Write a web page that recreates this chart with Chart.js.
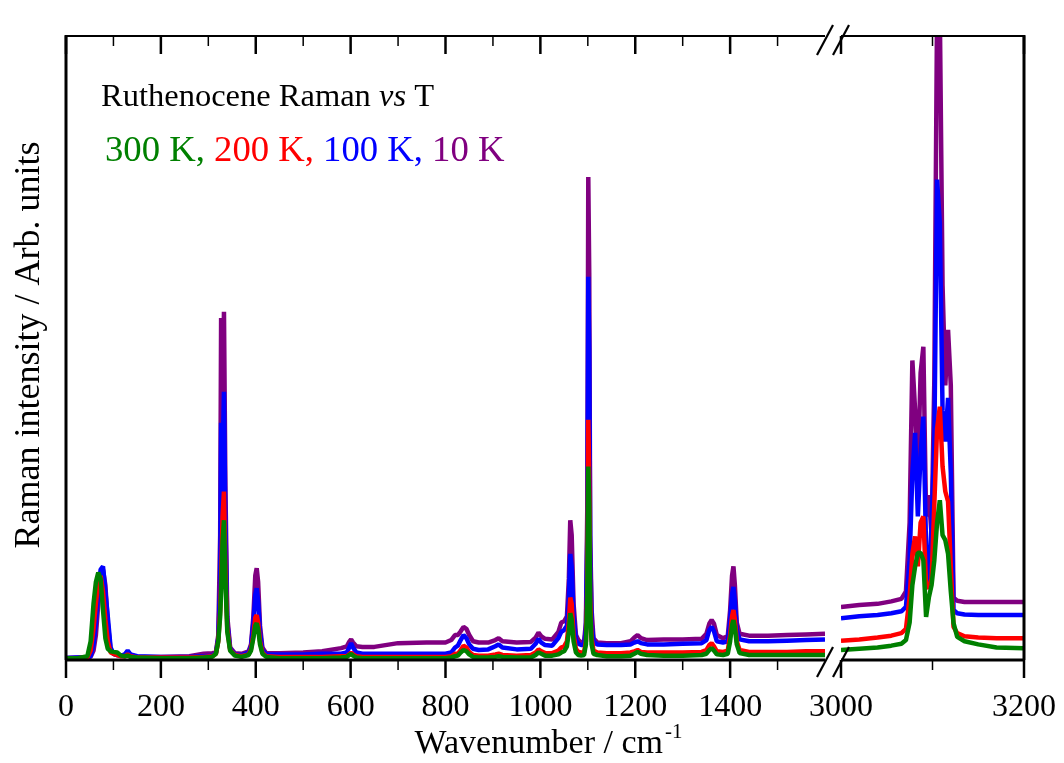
<!DOCTYPE html>
<html>
<head>
<meta charset="utf-8">
<title>Ruthenocene Raman vs T</title>
<script src="https://cdn.jsdelivr.net/npm/chart.js@4.4.1/dist/chart.umd.min.js"></script>
<style>
  html, body { margin: 0; padding: 0; background: #fff; overflow: hidden; }
  #wrap { position: relative; width: 1064px; height: 763px; overflow: hidden; }
  #wrap canvas { position: absolute; left: 0; top: 0; }
</style>
</head>
<body>
<div id="wrap">
  <canvas id="lowChart" width="1064" height="763"></canvas>
  <canvas id="highChart" width="1120" height="763"></canvas>
</div>
<script>
// Low-frequency window, 0-1600 cm-1
const lowWavenumbers = [
  0, 25, 45, 52, 58, 63, 68, 73, 78, 83, 88, 94, 100, 108, 116,
  124, 130, 136, 150,
  200, 260, 290, 308,
  316, 321, 325, 327, 330, 333, 336, 340, 346, 356,
  370, 385,
  390, 395, 399, 402, 405, 409, 414, 422,
  450, 500, 540, 580,
  592, 597, 601, 605, 612, 625,
  650, 700, 760, 800, 812,
  820, 826, 832, 838, 844, 850, 858, 870,
  890, 905, 912, 920, 950, 980,
  990, 996, 1002, 1010, 1025, 1038,
  1044, 1050, 1056, 1060, 1063, 1066, 1070, 1075, 1080, 1086,
  1092, 1096, 1099, 1101, 1103, 1105, 1108, 1112, 1120,
  1140, 1170, 1190,
  1198, 1205, 1212, 1225,
  1260, 1300, 1340,
  1350, 1356, 1361, 1366, 1372,
  1385, 1395,
  1400, 1404, 1407, 1410, 1414, 1420,
  1440, 1480, 1520, 1560, 1600
];
const low300K = [
  0.3, 0.3, 0.6, 3, 9, 12.5, 14, 13, 8, 3.5, 1.8, 1.4, 1.3, 1.2, 0.7,
  0.6, 0.7, 0.5, 0.4,
  0.3, 0.3, 0.4, 0.5,
  1.0, 3, 7, 11, 19, 22.4, 13, 4.5, 1.5, 0.7,
  0.5, 0.8,
  1.5, 3.5, 5.5, 5.9, 5, 2.5, 1, 0.5,
  0.3, 0.3, 0.3, 0.4,
  0.5, 0.8, 1.0, 0.7, 0.4, 0.3,
  0.3, 0.3, 0.3, 0.3, 0.4,
  0.6, 0.7, 1.2, 1.6, 1.4, 0.9, 0.5, 0.4,
  0.4, 0.5, 0.6, 0.5, 0.4, 0.4,
  0.8, 1.2, 1.0, 0.7, 0.7, 0.9,
  1.2, 1.4, 2.2, 4.5, 7.5, 6.5, 3, 1.2, 0.8, 0.7,
  0.8, 2.5, 10, 31, 25, 8, 2.5, 1, 0.8,
  0.6, 0.6, 0.7,
  1.0, 1.3, 1.0, 0.8,
  0.7, 0.7, 0.8,
  1.0, 1.6, 1.9, 1.5, 0.9,
  0.8, 1.0,
  3, 5.6, 6.4, 5.2, 2.5, 1.1,
  0.8, 0.8, 0.8, 0.8, 0.8
];
const low200K = [
  0.3, 0.3, 0.4, 1.5, 5, 9, 12.5, 13.5, 11, 6.5, 3, 1.2, 1, 0.8, 0.6,
  0.6, 0.9, 0.6, 0.4,
  0.4, 0.4, 0.5, 0.6,
  1.0, 3, 8, 13, 23, 27, 15, 5, 1.6, 0.8,
  0.6, 0.9,
  1.8, 4, 6.8, 7.2, 6, 3, 1.2, 0.6,
  0.5, 0.5, 0.5, 0.6,
  0.6, 0.9, 1.2, 0.9, 0.6, 0.5,
  0.5, 0.5, 0.5, 0.5, 0.6,
  1.0, 1.0, 1.6, 2.3, 2.0, 1.3, 0.8, 0.7,
  0.7, 0.9, 1.0, 0.8, 0.7, 0.8,
  1.2, 1.7, 1.4, 1.1, 1.1, 1.5,
  2, 2.2, 3, 6, 10, 9, 4, 1.8, 1.3, 1.2,
  1.2, 3, 12, 38.5, 30, 10, 3.5, 1.5, 1.2,
  1.1, 1.1, 1.2,
  1.4, 1.6, 1.3, 1.2,
  1.2, 1.2, 1.3,
  1.6, 2.4, 2.7, 2.2, 1.4,
  1.3, 1.5,
  4, 7, 8, 6.5, 3, 1.6,
  1.3, 1.3, 1.3, 1.4, 1.4
];
const low100K = [
  0.3, 0.4, 0.4, 0.6, 2.5, 6, 11, 14.5, 15, 11, 7, 2, 1, 0.8, 0.7,
  0.9, 1.5, 0.9, 0.6,
  0.5, 0.5, 0.6, 0.7,
  1.1, 3.5, 12, 38, 32, 43, 22, 6, 1.8, 0.9,
  0.8, 1.2,
  2.2, 6, 10.5, 11.5, 9.5, 4.5, 1.6, 0.9,
  0.9, 0.9, 1.0, 1.0,
  1.2, 2.0, 2.7, 2.0, 1.2, 1.0,
  1.0, 1.0, 1.0, 1.0, 1.2,
  2.0, 2.3, 3.2, 4.0, 3.5, 2.5, 1.8, 1.6,
  1.7, 2.2, 2.5, 2.0, 1.7, 1.8,
  2.6, 3.4, 2.8, 2.4, 2.3, 3.5,
  4.5, 4.8, 5.5, 10, 17, 15, 7, 3.2, 2.6, 2.4,
  2.4, 5, 20, 61.4, 50, 18, 6, 3, 2.5,
  2.4, 2.4, 2.5,
  2.8, 3.0, 2.7, 2.5,
  2.5, 2.6, 2.7,
  3.2, 4.8, 5.3, 4.6, 3.0,
  2.8, 3.0,
  6.5, 10.5, 11.7, 9.5, 4.8, 3.3,
  3.0, 3.0, 3.1, 3.2, 3.3
];
const low10K = [
  0.3, 0.4, 0.4, 0.5, 1.5, 4, 9, 13, 14.5, 12, 6, 1.6, 1, 0.8, 0.7,
  0.8, 1.3, 0.8, 0.5,
  0.5, 0.6, 1.0, 1.1,
  1.2, 4, 20, 54.8, 40, 55.8, 28, 7, 2, 1.1,
  1.0, 1.4,
  2.5, 7, 13.5, 14.7, 12.5, 5.5, 2, 1.1,
  1.1, 1.2, 1.4, 1.9,
  2.2, 2.9, 3.3, 2.8, 2.2, 2.1,
  2.1, 2.7, 2.8, 2.8, 3.2,
  4.0, 4.0, 4.6, 5.3, 5.0, 4.0, 3.0, 2.8,
  2.8, 3.2, 3.5, 3.0, 2.8, 2.9,
  3.6, 4.4, 3.8, 3.4, 3.3, 4.5,
  6.0, 6.2, 7, 13, 22.4, 20, 9, 4, 3.2, 2.8,
  2.8, 6, 25, 77.4, 62, 20, 8, 3.5, 2.8,
  2.7, 2.7, 3.0,
  3.6, 4.0, 3.5, 3.2,
  3.3, 3.3, 3.4,
  4.2, 5.8, 6.4, 5.8, 4.0,
  3.5, 3.8,
  8, 13.5, 15, 12, 6, 4.2,
  3.9, 3.9, 4.0, 4.1, 4.2
];

// C-H stretching window, 3000-3200 cm-1
const highWavenumbers = [
  3000, 3020, 3040, 3055, 3066, 3071, 3075, 3078, 3081, 3084, 3087, 3090, 3093, 3096,
  3099, 3102, 3105, 3108, 3111, 3114, 3117, 3120, 3123, 3127, 3135, 3150, 3170, 3200
];
const high300K = [
  1.6, 1.8, 2.0, 2.3, 2.6, 3.2, 6, 12, 15, 17.2, 17.2, 16, 6.9, 10,
  12, 16, 22, 25.6, 20, 19.2, 17, 11, 5.9, 3.7, 3.0, 2.5, 2.0, 1.9
];
const high200K = [
  3.1, 3.3, 3.6, 3.9, 4.3, 5, 10, 17, 19.8, 15, 22, 23, 12, 11.5,
  13, 25, 37, 40.6, 31, 27, 25.4, 15, 5.3, 4.3, 3.8, 3.6, 3.5, 3.5
];
const high100K = [
  6.7, 7.0, 7.2, 7.5, 7.8, 8.5, 16, 30, 36.4, 23, 33, 39, 18, 12.3,
  22, 35, 77, 70, 40, 35, 42, 30, 8, 7.5, 7.3, 7.2, 7.2, 7.2
];
const high10K = [
  8.5, 8.8, 9.0, 9.4, 9.8, 11, 22, 48, 40, 30, 46, 50.2, 23, 26.4,
  20, 45, 104, 104, 60, 44, 52.9, 44, 10, 9.5, 9.3, 9.3, 9.3, 9.3
];

const lowTickLabels = [0, 200, 400, 600, 800, 1000, 1200, 1400];
const highTickLabels = [3000, 3200];

const serif = "'Liberation Serif', 'Times New Roman', serif";
const colors = { k300: '#008000', k200: '#ff0000', k100: '#0000ff', k10: '#800080' };

function seriesData(xs, ys) {
  return xs.map((x, i) => ({ x: x, y: ys[i] }));
}

// green is listed first so it ends up drawn on top
function makeDatasets(xs, s300, s200, s100, s10) {
  return [
    ['300 K', s300, colors.k300],
    ['200 K', s200, colors.k200],
    ['100 K', s100, colors.k100],
    ['10 K', s10, colors.k10]
  ].map(([label, ys, color]) => ({
    label: label,
    data: seriesData(xs, ys),
    borderColor: color,
    backgroundColor: color,
    borderWidth: 4.5,
    borderJoinStyle: 'bevel',
    pointRadius: 0,
    tension: 0,
    fill: false
  }));
}

function line(ctx, x1, y1, x2, y2) {
  ctx.beginPath();
  ctx.moveTo(x1, y1);
  ctx.lineTo(x2, y2);
  ctx.stroke();
}

// box, tick marks (out at the bottom, in at the top) and the // break marks
const framePlugin = {
  id: 'frame',
  afterDatasetsDraw(chart, args, opts) {
    const { ctx, chartArea: a } = chart;
    const x = chart.scales.x;
    ctx.save();
    ctx.strokeStyle = '#000';
    ctx.lineCap = 'butt';
    ctx.lineWidth = 2;
    line(ctx, a.left, a.top, a.right, a.top);
    ctx.lineWidth = 3;
    line(ctx, a.left, a.bottom, a.right, a.bottom);
    if (opts.leftEdge) line(ctx, a.left, a.top - 1, a.left, a.bottom);
    if (opts.rightEdge) line(ctx, a.right, a.top - 1, a.right, a.bottom);

    x.ticks.forEach((t) => {
      if ((opts.skip || []).includes(t.value)) return;
      const px = x.getPixelForValue(t.value);
      const major = t.value % 200 === 0;
      const len = major ? 18 : 10;
      ctx.lineWidth = major ? 2.5 : 1.5;
      line(ctx, px, a.bottom, px, a.bottom + len);
      line(ctx, px, a.top, px, a.top + len);
    });

    if (opts.breakAt) {
      const bx = opts.breakAt === 'right' ? a.right : a.left;
      ctx.lineWidth = 2.2;
      [a.top + 4, a.bottom + 2].forEach((cy) => {
        line(ctx, bx - 8, cy + 15, bx + 8, cy - 15);
      });
    }
    ctx.restore();
  }
};

// axis titles and the in-plot caption
const textPlugin = {
  id: 'texts',
  afterDraw(chart) {
    const ctx = chart.ctx;
    ctx.save();
    ctx.fillStyle = '#000';

    ctx.save();
    ctx.translate(30, 345);
    ctx.rotate(-Math.PI / 2);
    ctx.font = '36px ' + serif;
    ctx.textAlign = 'center';
    ctx.textBaseline = 'middle';
    ctx.fillText('Raman intensity / Arb. units', 0, 0);
    ctx.restore();

    ctx.textBaseline = 'alphabetic';
    ctx.font = '34px ' + serif;
    ctx.textAlign = 'right';
    ctx.fillText('Wavenumber / cm', 663, 753);
    ctx.textAlign = 'left';
    ctx.font = '21px ' + serif;
    ctx.fillText('-1', 665, 738);

    let x = 101;
    const y1 = 106;
    [['Ruthenocene Raman ', ''], ['vs', 'italic '], [' T', '']].forEach(([s, style]) => {
      ctx.font = style + '32.5px ' + serif;
      ctx.fillText(s, x, y1);
      x += ctx.measureText(s).width;
    });

    x = 105;
    const y2 = 161;
    ctx.font = '36.7px ' + serif;
    [['300 K, ', colors.k300], ['200 K, ', colors.k200], ['100 K, ', colors.k100], ['10 K', colors.k10]]
      .forEach(([s, c]) => {
        ctx.fillStyle = c;
        ctx.fillText(s, x, y2);
        x += ctx.measureText(s).width;
      });
    ctx.restore();
  }
};

function buildChart(canvasId, datasets, xMin, xMax, tickLabels, padding, frameOpts, plugins) {
  return new Chart(document.getElementById(canvasId), {
    type: 'line',
    data: { datasets: datasets },
    options: {
      responsive: false,
      animation: false,
      events: [],
      layout: { padding: padding },
      plugins: {
        legend: { display: false },
        tooltip: { enabled: false },
        frame: frameOpts
      },
      scales: {
        x: {
          type: 'linear',
          min: xMin,
          max: xMax,
          border: { display: false },
          grid: { display: false },
          ticks: {
            stepSize: 100,
            autoSkip: false,
            maxRotation: 0,
            padding: 20,
            color: '#000',
            font: { family: serif, size: 32 },
            callback: (v) => (tickLabels.includes(v) ? String(v) : '')
          },
          afterFit: (scale) => { scale.height = 103; }
        },
        y: {
          display: false,
          min: 0,
          max: 100
        }
      }
    },
    plugins: plugins
  });
}

buildChart('lowChart',
  makeDatasets(lowWavenumbers, low300K, low200K, low100K, low10K),
  0, 1600, lowTickLabels,
  { left: 66, right: 1064 - 825, top: 36, bottom: 0 },
  { leftEdge: true, skip: [1600], breakAt: 'right' },
  [framePlugin, textPlugin]);

// wider canvas (clipped by the wrapper) leaves room for the last tick label
buildChart('highChart',
  makeDatasets(highWavenumbers, high300K, high200K, high100K, high10K),
  3000, 3200, highTickLabels,
  { left: 841, right: 1120 - 1024, top: 36, bottom: 0 },
  { rightEdge: true, breakAt: 'left' },
  [framePlugin]);
</script>
</body>
</html>
